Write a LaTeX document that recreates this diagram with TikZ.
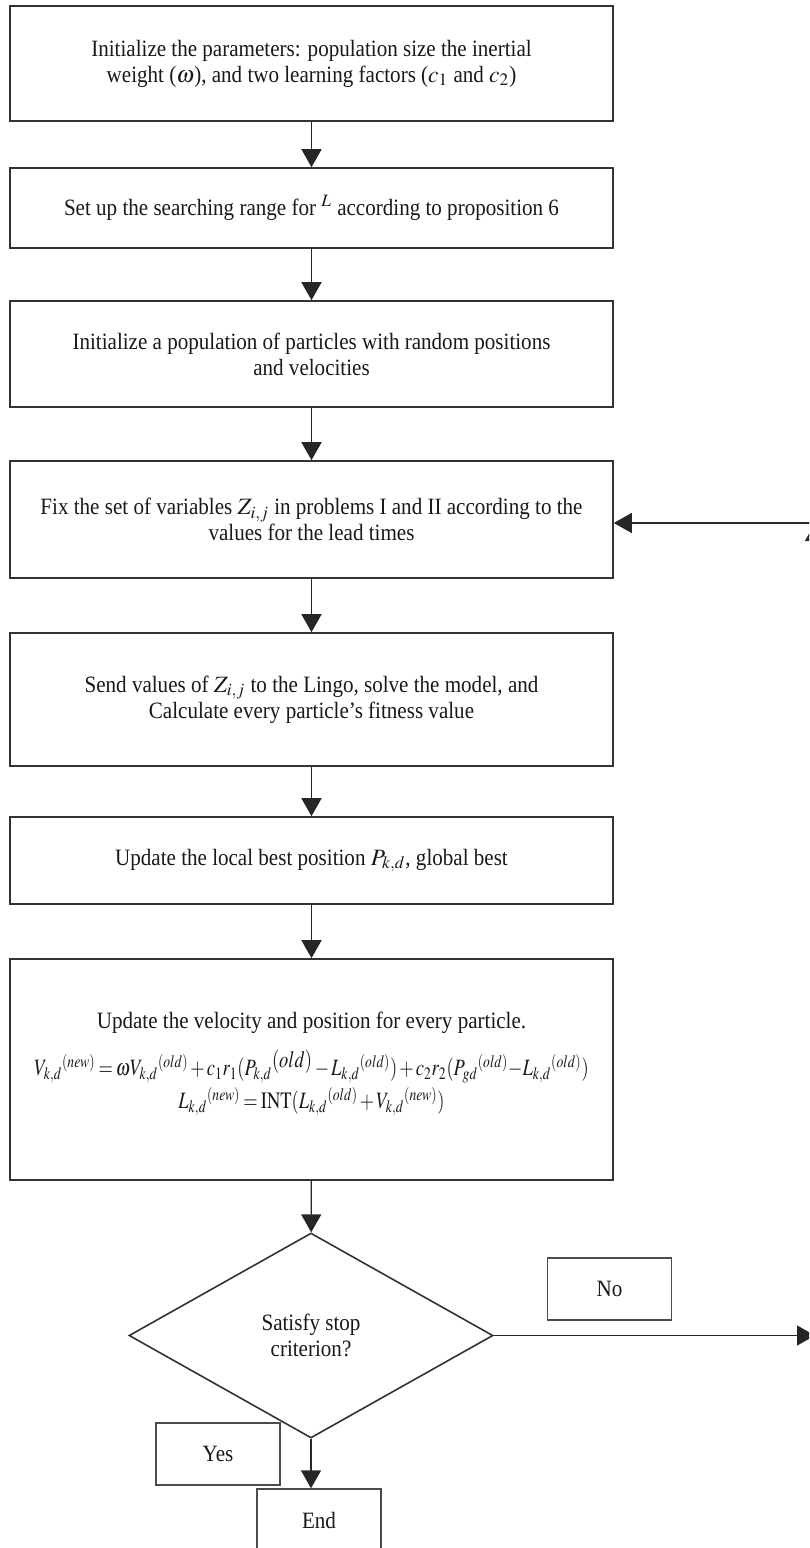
\documentclass[tikz,border=0pt]{standalone}
\usepackage{mathptmx}
\usepackage{fontspec}
\setmainfont{Liberation Serif}[FakeStretch=0.9]
\usetikzlibrary{arrows.meta, shapes.geometric}

\newcommand{\squeezed}[1]{\scalebox{0.79}[1]{#1}}

\begin{document}
\begin{tikzpicture}[x=0.5pt, y=-0.5pt, >={Triangle[length=9pt, width=10pt]},
  every node/.style={font=\fontsize{11.7}{13}\selectfont, text=black!90},
  procbox/.style={draw=black!80, line width=0.8pt, fill=white, align=center,
    minimum width=301.5pt, inner sep=2pt},
  tagbox/.style={draw=black!70, line width=0.7pt, fill=white,
    minimum width=62pt, minimum height=31pt},
  flow/.style={->, draw=black!85, line width=0.7pt}]

\useasboundingbox (0,0) rectangle (809,1548);
\clip (0,0) rectangle (809,1548);

% Main chain of process boxes
\node [procbox, minimum height=57.5pt] (init) at (311.5,63.5)
  {Initialize the parameters: population size the inertial\\
   weight ($\omega$), and two learning factors ($c_1$ and $c_2$)};
\node [procbox, minimum height=40pt] (range) at (311.5,208)
  {Set up the searching range for $^{L}$ according to proposition 6};
\node [procbox, minimum height=53pt] (pop) at (311.5,354)
  {Initialize a population of particles with random positions\\
   and velocities};
\node [procbox, minimum height=58.5pt] (fix) at (311.5,519.5)
  {Fix the set of variables $Z_{i,j}$ in problems I and II according to the\\
   values for the lead times};
\node [procbox, minimum height=66.5pt] (lingo) at (311.5,699.5)
  {Send values of $Z_{i,j}$ to the Lingo, solve the model, and\\
   Calculate every particle’s fitness value};
\node [procbox, minimum height=43.5pt] (best) at (311.5,860.5)
  {Update the local best position $P_{k,d}$, global best};
\node [procbox, minimum height=110.5pt] (move) at (311.5,1069.5)
  {Update the velocity and position for every particle.\\[7pt]
   \squeezed{$\medmuskip=2mu \thickmuskip=3mu
     V_{k,d}{}^{(new)} = \omega V_{k,d}{}^{(old)} + c_1r_1(P_{k,d}{}^{\textstyle(old)}
     - L_{k,d}{}^{(old)}) + c_2r_2(P_{gd}{}^{(old)}{-}L_{k,d}{}^{(old)})$}\\[1pt]
   \squeezed{$\medmuskip=2mu \thickmuskip=3mu
     L_{k,d}{}^{(new)} = \mathrm{INT}(L_{k,d}{}^{(old)} + V_{k,d}{}^{(new)})$}\\[-4pt]};

% Decision and the end
\node [diamond, draw=black!80, line width=0.8pt, fill=white, align=center,
  minimum width=182pt, minimum height=102.5pt, inner sep=0pt] (stop) at (311,1335.5)
  {Satisfy stop\\criterion?};
\node [tagbox] (no) at (609.5,1289) {No};
\node [tagbox] (finish) at (319,1520) {End};

% Arrows down the chain
\foreach \a/\b in {init/range, range/pop, pop/fix, fix/lingo, lingo/best,
  best/move, move/stop} {
  \draw [flow] (\a) -- (\b);
}
\draw [flow] (stop.south) -- (stop.south |- finish.north);

\node [tagbox] (yes) at (218,1454) {Yes};

% Loop back when not satisfied
\coordinate (cornerB) at (815,1335.5);
\coordinate (cornerT) at (815,523);
\draw [flow] (stop.east) -- (cornerB);
\draw [flow] (cornerB) -- (cornerT);
\draw [flow] (cornerT) -- (fix.east |- cornerT);

\end{tikzpicture}
\end{document}
